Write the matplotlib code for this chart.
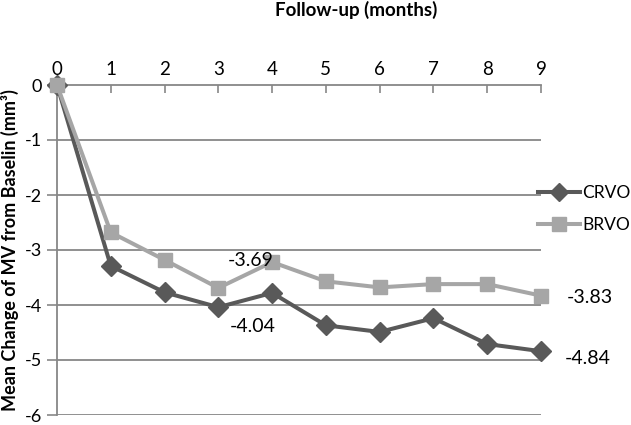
import matplotlib
matplotlib.use("Agg")
import matplotlib.pyplot as plt
from matplotlib.lines import Line2D

plt.rcParams['font.family'] = ['Lato', 'DejaVu Sans']

months = [0, 1, 2, 3, 4, 5, 6, 7, 8, 9]
crvo = [0, -3.29, -3.77, -4.04, -3.78, -4.37, -4.49, -4.24, -4.71, -4.84]
brvo = [0, -2.68, -3.18, -3.69, -3.22, -3.57, -3.68, -3.62, -3.62, -3.83]
yticks = [0, -1, -2, -3, -4, -5, -6]

c_crvo = '#595959'
c_brvo = '#A6A6A6'
grid_c = '#878787'

fig = plt.figure(figsize=(6.31, 4.25), dpi=100)
ax = fig.add_axes([57/631, 1-415/425, (541-57)/631, (415-85)/425])

ax.set_xlim(0, 9)
ax.set_ylim(-6, 0)
ax.set_yticks(yticks)
ax.set_yticklabels([str(v) for v in yticks], fontsize=13)
ax.set_xticks(months)
ax.xaxis.tick_top()
ax.set_xticklabels([str(m) for m in months], fontsize=13.5)
ax.tick_params(axis='x', direction='in', length=6, color=grid_c, width=1.2, pad=5)
ax.tick_params(axis='y', direction='out', length=7, color=grid_c, width=1.2, pad=4)

for v in yticks[1:]:
    ax.axhline(v, color=grid_c, lw=1.3, zorder=1)

for s in ['right', 'bottom']:
    ax.spines[s].set_visible(False)
ax.spines['top'].set_color(grid_c)
ax.spines['top'].set_linewidth(1.3)
ax.spines['left'].set_color(grid_c)
ax.spines['left'].set_linewidth(1.3)

ax.plot(months, crvo, color=c_crvo, lw=2.9, marker='D', markersize=10, zorder=3, clip_on=False)
ax.plot(months, brvo, color=c_brvo, lw=2.9, marker='s', markersize=10.5, zorder=4, clip_on=False)

fig.text(356/631, 1-10/425, 'Follow-up (months)', fontsize=13.5, fontweight='bold',
         ha='center', va='center')
fig.text(10/631, 1-250/425, 'Mean Change of MV from Baselin (mm³)', rotation=90,
         fontsize=13, fontweight='bold', ha='center', va='center')

ax.annotate(f'{brvo[3]:.2f}', xy=(3, brvo[3]), xytext=(23, 19.5), textcoords='offset points',
            ha='center', va='center', fontsize=14, zorder=6)
ax.annotate(f'{crvo[3]:.2f}', xy=(3, crvo[3]), xytext=(25, -14), textcoords='offset points',
            ha='center', va='center', fontsize=14, zorder=6)
ax.annotate(f'{brvo[9]:.2f}', xy=(9, brvo[9]), xytext=(35, -1), textcoords='offset points',
            ha='center', va='center', fontsize=14, annotation_clip=False, zorder=6)
ax.annotate(f'{crvo[9]:.2f}', xy=(9, crvo[9]), xytext=(33.5, -5), textcoords='offset points',
            ha='center', va='center', fontsize=14, annotation_clip=False, zorder=6)

handles = [Line2D([], [], color=c_crvo, lw=2.9, marker='D', markersize=9),
           Line2D([], [], color=c_brvo, lw=2.9, marker='s', markersize=10)]
fig.legend(handles, ['CRVO', 'BRVO'], loc='center left', bbox_to_anchor=(538/631, 1-209/425),
           frameon=False, fontsize=12.5, handlelength=2.4, handletextpad=0.17, labelspacing=0.95,
           borderpad=0, borderaxespad=0)

fig.savefig('out.png', dpi=100)
